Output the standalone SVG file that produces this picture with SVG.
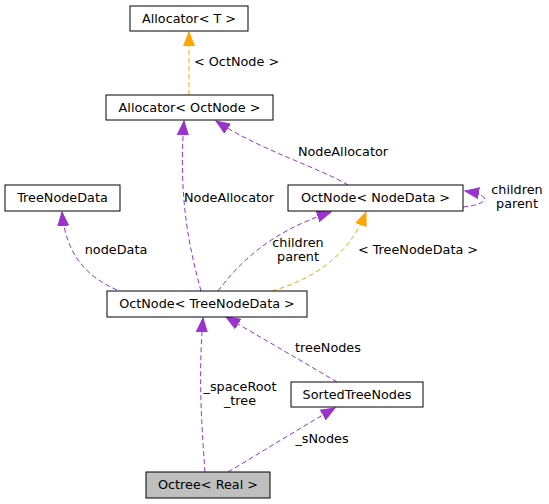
<svg xmlns="http://www.w3.org/2000/svg" width="549" height="504" viewBox="0 0 549 504">
<style>
.box{fill:#ffffff;stroke:#000000;stroke-width:1}
.cur{fill:#bfbfbf;stroke:#000000;stroke-width:1}
text{font-family:"DejaVu Sans",sans-serif;font-size:12.8px;fill:#000000}
.t{text-anchor:middle}
.p{fill:none;stroke:#9a32cd;stroke-width:1;stroke-dasharray:5,3}
.o{fill:none;stroke:#ffa500;stroke-width:1;stroke-dasharray:5,3}
</style>
<defs>
<marker id="ap" markerUnits="userSpaceOnUse" markerWidth="16" markerHeight="12" refX="14" refY="6" orient="auto">
<path d="M0,0.5 L14,6 L0,11.5 Z" fill="#9a32cd" stroke="#9a32cd"/>
</marker>
<marker id="ao" markerUnits="userSpaceOnUse" markerWidth="16" markerHeight="12" refX="14" refY="6" orient="auto">
<path d="M0,0.5 L14,6 L0,11.5 Z" fill="#ffa500" stroke="#ffa500"/>
</marker>
</defs>
<rect width="549" height="504" fill="#ffffff"/>
<g id="connectors">
<path class="o" d="M189,95 L189,32" marker-end="url(#ao)"/>
<text x="194" y="66">&lt; OctNode &gt;</text>
<path class="p" d="M348,185 C320,168 260,150 216,121" marker-end="url(#ap)"/>
<text class="t" x="343" y="156">NodeAllocator</text>
<path class="p" d="M201,291 C190,250 178,200 184,121" marker-end="url(#ap)"/>
<text x="184" y="202">NodeAllocator</text>
<path class="p" d="M463,207 C485,205 497,196 465,191" marker-end="url(#ap)"/>
<text class="t" x="517" y="194">children</text>
<text class="t" x="517" y="208">parent</text>
<path class="p" d="M218,291 C240,262 270,232 331,212" marker-end="url(#ap)"/>
<text class="t" x="298" y="247">children</text>
<text class="t" x="298" y="261">parent</text>
<path class="o" d="M272,291 C310,280 348,258 366,212" marker-end="url(#ao)"/>
<text class="t" x="418" y="254">&lt; TreeNodeData &gt;</text>
<path class="p" d="M117,290 C90,278 66,258 62,212" marker-end="url(#ap)"/>
<text class="t" x="116" y="254">nodeData</text>
<path class="p" d="M337,382 C300,360 260,337 226,317" marker-end="url(#ap)"/>
<text class="t" x="328" y="352">treeNodes</text>
<path class="p" d="M205,472 C202,430 198,380 203,318" marker-end="url(#ap)"/>
<text class="t" x="240" y="391">_spaceRoot</text>
<text class="t" x="240" y="405">_tree</text>
<path class="p" d="M228,472 C265,450 300,428 335,408" marker-end="url(#ap)"/>
<text class="t" x="322" y="443">_sNodes</text>
</g>
<g id="node_allocator_t">
<rect class="box" x="130" y="6" width="118" height="25"/>
<text class="t" x="189" y="23">Allocator&lt; T &gt;</text>
</g>
<g id="node_allocator_octnode">
<rect class="box" x="106" y="95" width="167" height="25"/>
<text class="t" x="189.5" y="112">Allocator&lt; OctNode &gt;</text>
</g>
<g id="node_treenodedata">
<rect class="box" x="5" y="185" width="115" height="26"/>
<text class="t" x="62.5" y="202">TreeNodeData</text>
</g>
<g id="node_octnode_nodedata">
<rect class="box" x="288" y="185" width="175" height="26"/>
<text class="t" x="375.5" y="202">OctNode&lt; NodeData &gt;</text>
</g>
<g id="node_octnode_treenodedata">
<rect class="box" x="107" y="291" width="200" height="26"/>
<text class="t" x="207" y="308">OctNode&lt; TreeNodeData &gt;</text>
</g>
<g id="node_sortedtreenodes">
<rect class="box" x="291" y="382" width="132" height="25"/>
<text class="t" x="357" y="399">SortedTreeNodes</text>
</g>
<g id="node_octree_real">
<rect class="cur" x="146" y="472" width="124" height="26"/>
<text class="t" x="208" y="489">Octree&lt; Real &gt;</text>
</g>
</svg>
